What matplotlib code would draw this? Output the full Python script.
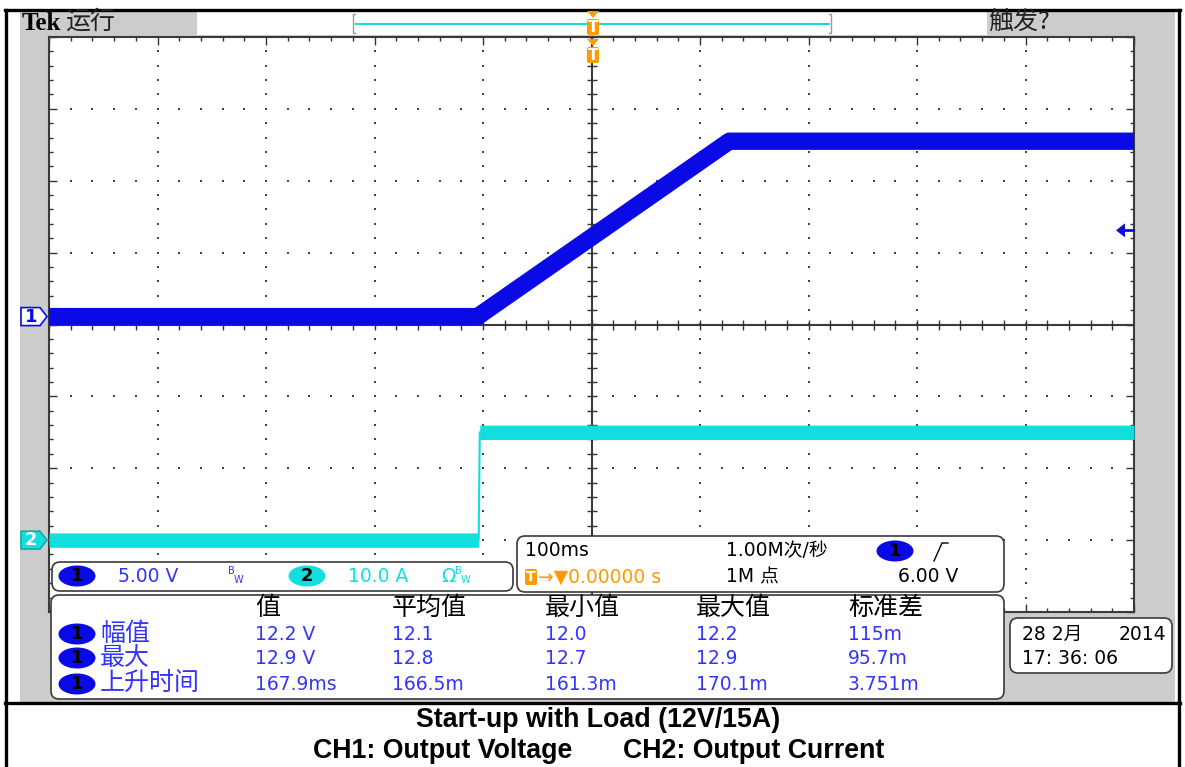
import matplotlib
matplotlib.use("Agg")
import matplotlib.pyplot as plt
import numpy as np
from matplotlib.patches import Rectangle, FancyBboxPatch, Ellipse, Polygon

plt.rcParams['font.family'] = ['Noto Sans CJK SC', 'DejaVu Sans']

# scope settings
ch1_volts_per_div = 5.0
ch2_amps_per_div = 10.0
ch1_offset_div = 0.11
ch2_offset_div = -3.0
trigger_level_v = 6.0

# CH1: output voltage (V) vs time (ms, trigger at 0)
ch1_time_ms = [-500, -105, 127, 500]
ch1_volts = [0.0, 0.0, 12.2, 12.2]

# CH2: output current (A)
ch2_time_ms = [-500, -104, -103, 500]
ch2_amps = [0.0, 0.0, 15.0, 15.0]
ch2_noise_a = 1.0  # half width of the noise band

meas_headers = ['值', '平均值', '最小值', '最大值', '标准差']
meas_names = ['幅值', '最大', '上升时间']
meas_values = [
    ['12.2 V', '12.1', '12.0', '12.2', '115m'],
    ['12.9 V', '12.8', '12.7', '12.9', '95.7m'],
    ['167.9ms', '166.5m', '161.3m', '170.1m', '3.751m'],
]

W, H = 1185, 767
BLUE = '#0a0ae6'
BLUE_TXT = '#3333ff'
CYAN = '#12dede'
ORANGE = '#ff9a00'
GRAY = '#cccccc'
EDGE = '#3a3a3a'
LATIN = ['DejaVu Sans', 'Noto Sans CJK SC']

fig = plt.figure(figsize=(W / 100, H / 100), dpi=100)

# background in pixel coordinates
bg = fig.add_axes([0, 0, 1, 1], zorder=0)
bg.set_xlim(0, W)
bg.set_ylim(H, 0)
bg.axis('off')

# graticule box (pixels): left 49, right 1134, top 37, bottom 612
gl, gr, gt, gb = 49, 1134, 37, 612
ax = fig.add_axes([gl / W, 1 - gb / H, (gr - gl) / W, (gb - gt) / H], zorder=2)

over = fig.add_axes([0, 0, 1, 1], zorder=5)
over.set_xlim(0, W)
over.set_ylim(H, 0)
over.axis('off')
over.patch.set_alpha(0)

# ---- screen background and frame ----
bg.add_patch(Rectangle((20, 11), 1155, 691, facecolor=GRAY, edgecolor='none'))
bg.add_patch(Rectangle((197, 12), 790, 23, facecolor='white', edgecolor='none'))
bg.plot([356, 829], [24, 24], color=CYAN, lw=1.5)
bg.plot([355, 353, 353, 355], [14, 14, 33, 33], color='#999999', lw=1)
bg.plot([829, 831, 831, 829], [14, 14, 33, 33], color='#999999', lw=1)
for y in (10, 703):
    bg.plot([5, 1180], [y, y], color='black', lw=2.4)
bg.plot([6, 6], [10, H], color='black', lw=2.4)
bg.plot([1179, 1179], [10, H], color='black', lw=2.4)

bg.text(22, 23, 'Tek', fontsize=18, fontweight='bold', family='Liberation Serif',
        va='center', ha='left')
bg.text(65, 22, '运行', fontsize=18, va='center', ha='left', color='#222222')
bg.text(988, 22, '触发?', fontsize=18, va='center', ha='left', color='#222222')

# ---- graticule ----
ax.set_facecolor('white')
ax.set_xlim(-500, 500)
ax.set_ylim(-4, 4)
for s in ax.spines.values():
    s.set_color(EDGE)
    s.set_linewidth(1.5)
ax.set_xticks(np.arange(-500, 501, 100))
ax.set_xticks(np.arange(-500, 501, 20), minor=True)
ax.set_yticks(np.arange(-4, 4.01, 1))
ax.set_yticks(np.arange(-4, 4.01, 0.2), minor=True)
ax.tick_params(which='both', direction='in', top=True, right=True,
               labelbottom=False, labelleft=False, color='#333333', width=1)
ax.tick_params(which='major', length=6)
ax.tick_params(which='minor', length=3)

dot_y = np.arange(-4, 4.01, 0.2)
dot_x = np.arange(-500, 501, 20)
for xv in range(-400, 401, 100):
    if xv != 0:
        ax.plot(np.full_like(dot_y, xv), dot_y, ls='none', marker='s',
                ms=1.5, mew=0, color='#444444', zorder=1)
for yv in range(-3, 4):
    if yv != 0:
        ax.plot(dot_x, np.full_like(dot_x, yv, dtype=float), ls='none', marker='s',
                ms=1.5, mew=0, color='#444444', zorder=1)
ax.axhline(0, color=EDGE, lw=1.5, zorder=1)
ax.axvline(0, color=EDGE, lw=1.5, zorder=1)
ax.plot(dot_x, np.zeros_like(dot_x), ls='none', marker='|', ms=7, mew=1,
        color='#333333', zorder=1)
ax.plot(np.zeros_like(dot_y), dot_y, ls='none', marker='_', ms=7, mew=1,
        color='#333333', zorder=1)

# ---- traces ----
ch1_div = np.array(ch1_volts) / ch1_volts_per_div + ch1_offset_div
ax.plot(ch1_time_ms, ch1_div, color=BLUE, lw=12.5, solid_capstyle='butt',
        solid_joinstyle='round', zorder=3)

ch2_div = np.array(ch2_amps) / ch2_amps_per_div + ch2_offset_div
half = ch2_noise_a / ch2_amps_per_div
ax.fill_between(ch2_time_ms, ch2_div - half, ch2_div + half, color=CYAN,
                lw=0, zorder=3)
ax.plot(ch2_time_ms, ch2_div, color=CYAN, lw=1.5, zorder=3)

# ---- markers around the graticule ----
def y_px(div):
    return (gt + gb) / 2 - div * (gb - gt) / 8

y1 = y_px(ch1_offset_div)
over.add_patch(Polygon([(21, y1 - 9), (40, y1 - 9), (47, y1), (40, y1 + 9), (21, y1 + 9)],
                       facecolor='white', edgecolor=BLUE, lw=1.2))
over.text(31, y1, '1', color=BLUE, fontsize=13, fontweight='bold', ha='center',
          va='center', family='DejaVu Sans')
y2 = y_px(ch2_offset_div)
over.add_patch(Polygon([(21, y2 - 9), (40, y2 - 9), (47, y2), (40, y2 + 9), (21, y2 + 9)],
                       facecolor=CYAN, edgecolor='#0aa0a0', lw=1))
over.text(31, y2, '2', color='white', fontsize=13, fontweight='bold', ha='center',
          va='center', family='DejaVu Sans')

yt = y_px(trigger_level_v / ch1_volts_per_div + ch1_offset_div)
over.add_patch(Polygon([(1116, yt), (1125, yt - 7), (1125, yt + 7)], facecolor=BLUE,
                       edgecolor='none'))
over.plot([1125, 1133], [yt, yt], color=BLUE, lw=2)

def t_marker(x, top):
    over.add_patch(Polygon([(x - 6, top), (x + 6, top), (x, top + 7)],
                           facecolor=ORANGE, edgecolor='none'))
    over.add_patch(FancyBboxPatch((x - 6, top + 8), 12, 16,
                                  boxstyle='round,pad=0,rounding_size=2',
                                  facecolor=ORANGE, edgecolor='none'))
    over.text(x, top + 16, 'T', color='white', fontsize=11, fontweight='bold',
              ha='center', va='center', family='DejaVu Sans')

t_marker(593, 11)
t_marker(593, 39)

# ---- readout panels ----
def panel(x0, y0, x1, y1):
    over.add_patch(FancyBboxPatch((x0, y0), x1 - x0, y1 - y0,
                                  boxstyle='round,pad=0,rounding_size=8',
                                  facecolor='white', edgecolor=EDGE, lw=1.2))

def badge(x, y, fc, label='1'):
    over.add_patch(Ellipse((x, y), 37, 21, facecolor=fc, edgecolor='none'))
    over.text(x, y, label, color='black', fontsize=13, fontweight='bold',
              ha='center', va='center', family='DejaVu Sans')

def txt(x, y, s, color='black', size=13.5, family=LATIN, **kw):
    over.text(x, y, s, color=color, fontsize=size, ha='left', va='center',
              family=family, **kw)

def cjk(x, y, s, color='black', size=18):
    over.text(x, y, s, color=color, fontsize=size, ha='left', va='center',
              family=['Noto Sans CJK SC', 'DejaVu Sans'])

# channel settings
panel(52, 562, 513, 591)
badge(77, 576, BLUE)
txt(118, 576, '5.00 V', BLUE_TXT)
txt(228, 571, 'B', BLUE_TXT, 7)
txt(234, 580, 'W', BLUE_TXT, 7)
badge(307, 576, CYAN, '2')
txt(348, 576, '10.0 A', CYAN)
txt(441, 576, 'Ω', CYAN)
txt(455, 571, 'B', CYAN, 7)
txt(461, 580, 'W', CYAN, 7)

# timebase
panel(517, 536, 1004, 592)
txt(525, 551, '100ms')
txt(726, 551, '1.00M次/秒')
badge(895, 551, BLUE)
over.plot([934, 942, 948], [561, 543, 543], color='black', lw=1)
over.add_patch(FancyBboxPatch((525, 569), 12, 16, boxstyle='round,pad=0,rounding_size=2',
                              facecolor=ORANGE, edgecolor='none'))
over.text(531, 577, 'T', color='white', fontsize=10, fontweight='bold',
          ha='center', va='center', family='DejaVu Sans')
txt(538, 577, '→▼0.00000 s', ORANGE)
txt(726, 577, '1M 点')
txt(898, 577, '6.00 V')

# measurements
panel(51, 595, 1004, 699)
col_x = [255, 392, 545, 696, 848]
row_y = [634, 658, 684]
for x, h in zip(col_x, meas_headers):
    cjk(x, 608, h)
for y, name, vals in zip(row_y, meas_names, meas_values):
    badge(77, y, BLUE)
    cjk(100, y, name, BLUE_TXT)
    for x, v in zip(col_x, vals):
        txt(x, y, v, BLUE_TXT)

# date box
panel(1010, 618, 1172, 673)
txt(1022, 634, '28 2月')
over.text(1166, 634, '2014', fontsize=13.5, ha='right', va='center', family=LATIN)
txt(1022, 659, '17: 36: 06')

# ---- caption ----
cap = dict(fontsize=19.3, fontweight='bold', family='Liberation Sans', va='center')
over.text(598, 720, 'Start-up with Load (12V/15A)', ha='center', **cap)
over.text(313, 751, 'CH1: Output Voltage', ha='left', **cap)
over.text(623, 751, 'CH2: Output Current', ha='left', **cap)

fig.savefig('out.png', dpi=100)
plt.close(fig)
